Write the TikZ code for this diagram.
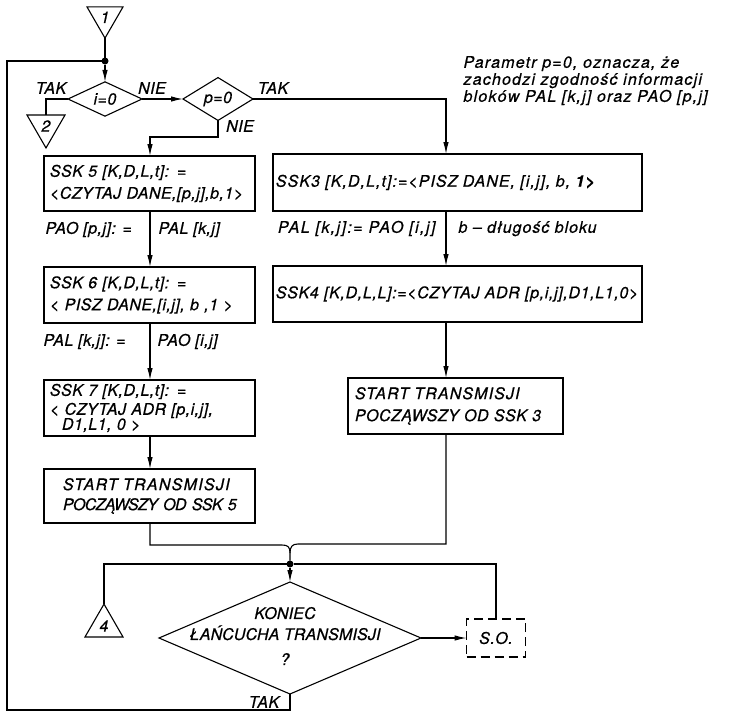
\documentclass[tikz,border=0pt]{standalone}
\usepackage{fontspec}
\setmainfont{TeX Gyre Heros}[LetterSpace=3,FakeBold=0.6]
\usetikzlibrary{arrows.meta,shapes.geometric}
\newcommand\lett{\fontsize{16}{22}\selectfont\itshape}
\newcommand\lsp[1]{\addfontfeature{LetterSpace=#1}}

\begin{document}
\begin{tikzpicture}[x=1pt,y=-1pt,line width=1.1pt,
  box/.style={draw,rectangle,inner sep=0pt,outer sep=0pt,align=left,font=\lett},
  lbl/.style={inner sep=0pt,font=\lett,text height=11.5pt,text depth=0pt},
  arr/.style={-{Latex[length=12pt,width=5.5pt]}},
  dia/.style={draw,diamond,inner sep=0pt,outer sep=0pt,font=\lett},
  tri/.style={draw,regular polygon,regular polygon sides=3,inner sep=0pt,outer sep=0pt,font=\lett},
  dotn/.style={circle,fill,inner sep=0pt,outer sep=0pt,minimum size=7pt}]
\useasboundingbox[fill=white] (0,0) rectangle (729,712);

% connectors (off-page references)
\node[tri,shape border rotate=180,minimum size=41.6pt] (c1) at (105,17.3) {1};
\node[tri,shape border rotate=180,minimum size=43.9pt] (c2) at (46,126) {2};
\node[tri,minimum size=43.9pt] (c4) at (104,626) {4};

% junction points
\node[dotn] (j1) at (105,61) {};
\node[dotn] (j2) at (290,564) {};

% decisions
\node[dia,minimum width=74pt,minimum height=32pt] (i0) at (105,99) {i=0};
\node[dia,minimum width=70pt,minimum height=32pt] (p0) at (218,99) {p=0};
\node[dia,minimum width=262pt,minimum height=112pt] (d3) at (290,638) {};
\node[font={\lett\lsp{1}},align=center,inner sep=0pt] (d3t) at (285,636)
  {KONIEC\\[-1pt] ŁAŃCUCHA TRANSMISJI\\[3pt] ?};

% left branch
\node[box,minimum width=211pt,minimum height=55pt,text width=199pt] (s5) at (149.5,183.5)
  {SSK 5 [K,D,L,t]: =\\<CZYTAJ DANE,[p,j],b,1>};
\node[box,minimum width=211pt,minimum height=56pt,text width=199pt] (s6) at (149.5,295)
  {SSK 6 [K,D,L,t]: =\\< PISZ DANE,[i,j], b ,1 >};
\node[box,minimum width=211pt,minimum height=56pt,text width=199pt] (s7) at (149.5,408)
  {SSK 7 [K,D,L,t]: =\\[-3pt]< CZYTAJ ADR [p,i,j],\\[-7pt]\hspace*{12pt}D1,L1, 0 >};
\node[box,minimum width=211pt,minimum height=54pt,text width=173pt] (st5) at (149.5,496)
  {{\lsp{8}START TRANSMISJI}\\[-2pt]\mbox{\lsp{-4}POCZĄWSZY OD SSK 5}};

% right branch
\node[box,minimum width=369pt,minimum height=57pt,text width=363pt,font={\lett\lsp{6.5}}] (s3) at (457.5,182.5)
  {SSK3 [K,D,L,t]:=<PISZ DANE, [i,j], b, {\bfseries 1>}};
\node[box,minimum width=369pt,minimum height=56pt,text width=363pt,font={\lett\lsp{4}}] (s4) at (457.5,294)
  {SSK4 [K,D,L,L]:=<CZYTAJ ADR [p,i,j],D1,L1,0>};
\node[box,minimum width=215pt,minimum height=56pt,text width=201pt] (st3) at (455.5,406)
  {{\lsp{7}START TRANSMISJI}\\POCZĄWSZY OD SSK 3};

% system operator (dashed)
\node[draw,dash pattern=on 9pt off 5pt,minimum width=59pt,minimum height=38pt,
  inner sep=0pt,outer sep=0pt,font=\lett] (so) at (496,638) {S.O.};

% labels
\node[lbl] at (51,88) {TAK};
\node[lbl] at (152,88) {NIE};
\node[lbl] at (273,88) {TAK};
\node[lbl] at (240,126) {NIE};
\node[lbl,anchor=west] at (45,228) {PAO [p,j]: =};
\node[lbl,anchor=west] at (158,228) {PAL [k,j]};
\node[lbl,anchor=west] at (43,340) {PAL [k,j]: =};
\node[lbl,anchor=west] at (157,340) {PAO [i,j]};
\node[lbl,anchor=east,font={\lett\lsp{9}}] at (436,227) {PAL [k,j]:= PAO [i,j]};
\node[lbl,anchor=west,font={\lett\lsp{6}}] at (458,227) {b – długość bloku};
\node[lbl] at (264,702) {TAK};
\node[lbl,anchor=west,font={\lett\lsp{7.5}}] at (463,62) {Parametr p=0, oznacza, że};
\node[lbl,anchor=west,font={\lett\lsp{7.5}}] at (463,79) {zachodzi zgodność informacji};
\node[lbl,anchor=west,font={\lett\lsp{7.5}}] at (463,96) {bloków PAL [k,j] oraz PAO [p,j]};

% routing points
\coordinate (rx) at (446,0);
\coordinate (k1) at (150,137);
\coordinate (ml) at (282,545);
\coordinate (mr) at (298,544);
\coordinate (m) at (290,553);
\coordinate (bl) at (7,710);

% flow
\draw (c1.corner 1) -- (j1);
\draw[arr] (j1) -- (i0.north);
\draw (i0.west) -| (c2.side 2);
\draw[arr] (i0.east) -- (p0.west);
\draw[arr] (p0.east) -| (s3.north -| rx);
\draw[arr] (p0.south) |- (k1) -- (s5.north -| k1);
\draw[arr] (s5.south -| k1) -- (s6.north -| k1);
\draw[arr] (s6.south -| k1) -- (s7.north -| k1);
\draw[arr] (s7.south -| k1) -- (st5.north -| k1);
\draw[arr] (s3.south -| rx) -- (s4.north -| rx);
\draw[arr] (s4.south -| rx) -- (st3.north -| rx);
\draw (st5.south -| k1) |- (ml) .. controls (288,545) and (290,547) .. (m) -- (j2);
\draw (st3.south -| rx) |- (mr) .. controls (292,544) and (290,547) .. (m);
\draw (c4.corner 1) |- (j2) -| (so.north);
\draw[arr] (j2) -- (d3.north);
\draw[arr] (d3.east) -- (so.west);
\draw (d3.south) |- (bl) |- (j1);
\end{tikzpicture}
\end{document}
